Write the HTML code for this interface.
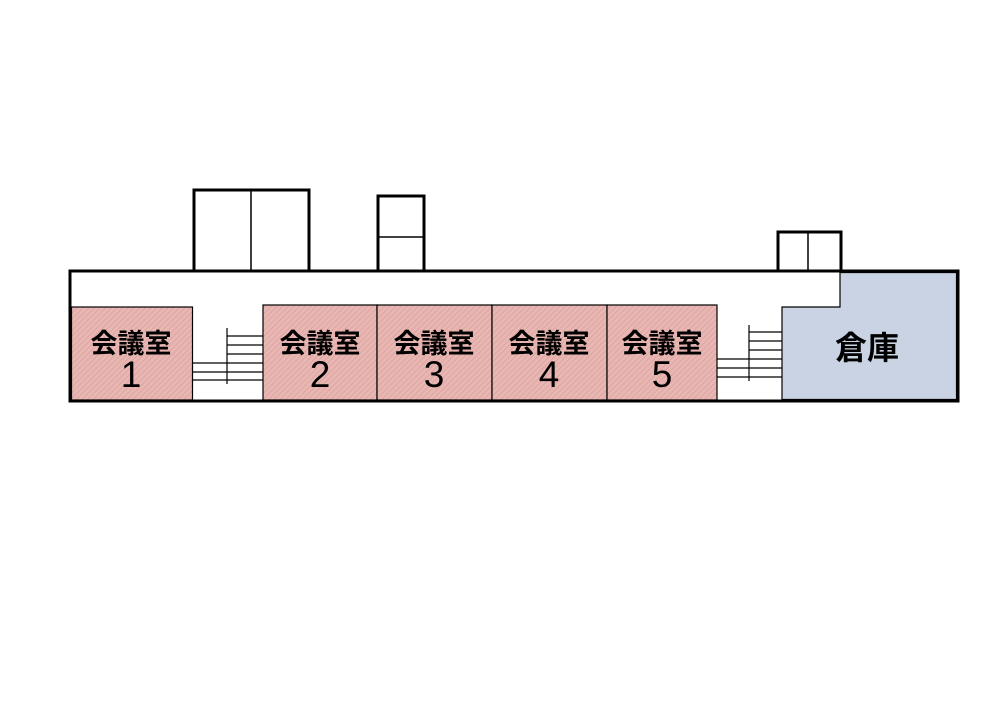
<!DOCTYPE html>
<html><head><meta charset="utf-8"><style>
html,body{margin:0;padding:0;background:#fff;}
svg{display:block;}
text{font-family:"Liberation Sans","Noto Sans CJK JP",sans-serif;fill:#000;}
</style></head><body>
<svg width="1000" height="707" viewBox="0 0 1000 707" xmlns="http://www.w3.org/2000/svg">
<defs>
<pattern id="h" patternUnits="userSpaceOnUse" width="4" height="4" patternTransform="rotate(45)">
<rect width="4" height="4" fill="#e9b7b3"/>
<line x1="0" y1="0" x2="0" y2="4" stroke="#d99f9b" stroke-width="1.5"/>
</pattern>
</defs>
<rect x="194" y="190" width="115" height="81" fill="#fff" stroke="#000" stroke-width="3"/>
<line x1="251" y1="190" x2="251" y2="271" stroke="#000" stroke-width="1.5"/>
<rect x="378" y="196" width="46" height="75" fill="#fff" stroke="#000" stroke-width="3"/>
<line x1="378" y1="237" x2="424" y2="237" stroke="#000" stroke-width="1.5"/>
<rect x="778" y="232" width="63" height="39" fill="#fff" stroke="#000" stroke-width="3"/>
<line x1="808" y1="232" x2="808" y2="271" stroke="#000" stroke-width="1.5"/>
<rect x="70" y="271" width="888" height="130" fill="#fff" stroke="#000" stroke-width="3"/>
<line x1="194" y1="271" x2="309" y2="271" stroke="#000" stroke-width="1"/>
<line x1="378" y1="271" x2="424" y2="271" stroke="#000" stroke-width="1"/>
<line x1="778" y1="271" x2="841" y2="271" stroke="#000" stroke-width="1"/>
<rect x="71.5" y="307" width="121" height="93" fill="url(#h)" stroke="#000" stroke-width="1.2"/>
<rect x="263" y="305" width="114" height="95" fill="url(#h)" stroke="#000" stroke-width="1.2"/>
<rect x="377" y="305" width="115" height="95" fill="url(#h)" stroke="#000" stroke-width="1.2"/>
<rect x="492" y="305" width="115" height="95" fill="url(#h)" stroke="#000" stroke-width="1.2"/>
<rect x="607" y="305" width="110" height="95" fill="url(#h)" stroke="#000" stroke-width="1.2"/>
<polygon points="782,307 840,307 840,272.5 956.5,272.5 956.5,399.5 782,399.5" fill="#c9d3e3" stroke="#000" stroke-width="1.2"/>
<g stroke="#000" stroke-width="1.2">
<line x1="227" y1="328" x2="227" y2="384"/>
<line x1="227" y1="336" x2="263" y2="336"/>
<line x1="227" y1="345" x2="263" y2="345"/>
<line x1="227" y1="354" x2="263" y2="354"/>
<line x1="193" y1="363" x2="263" y2="363"/>
<line x1="193" y1="372" x2="263" y2="372"/>
<line x1="193" y1="380" x2="263" y2="380"/>
<line x1="749" y1="325" x2="749" y2="381"/>
<line x1="749" y1="332" x2="782" y2="332"/>
<line x1="749" y1="341" x2="782" y2="341"/>
<line x1="749" y1="350" x2="782" y2="350"/>
<line x1="717" y1="359" x2="782" y2="359"/>
<line x1="717" y1="368" x2="782" y2="368"/>
<line x1="717" y1="377" x2="782" y2="377"/>
</g>
<g font-size="27" text-anchor="middle" font-weight="bold">
<text x="131" y="353">会議室</text>
<text x="320" y="353">会議室</text>
<text x="434" y="353">会議室</text>
<text x="549" y="353">会議室</text>
<text x="662" y="353">会議室</text>
</g>
<g font-size="37" text-anchor="middle">
<text x="131" y="387">1</text>
<text x="320" y="387">2</text>
<text x="434" y="387">3</text>
<text x="549" y="387">4</text>
<text x="662" y="387">5</text>
</g>
<text x="867" y="359" font-size="32" text-anchor="middle" font-weight="bold">倉庫</text>
</svg>
</body></html>
